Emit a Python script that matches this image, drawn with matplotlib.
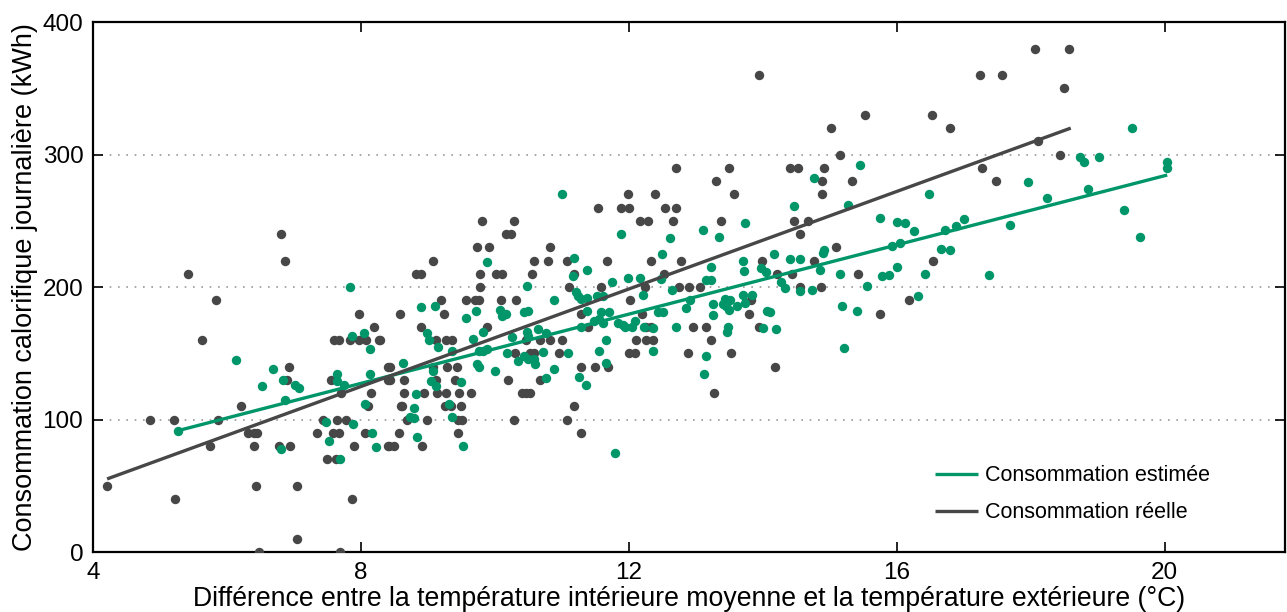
import matplotlib
matplotlib.use("Agg")
import matplotlib.pyplot as plt
import numpy as np

plt.rcParams['font.family'] = ['Liberation Sans', 'DejaVu Sans']

# Real consumption (gray) points: (temperature difference, kWh)
reel_x = [11.99, 12.39, 12.71,
          13.95, 15.53, 15.02, 16.53, 16.80, 15.15, 13.49, 14.41, 14.53, 14.91, 13.30, 14.89, 15.33, 13.57, 14.89,
          18.07, 18.57, 17.24, 17.58, 18.50, 18.11, 18.44, 17.27, 17.49,
          12.70, 12.66, 13.37, 14.46, 14.68, 14.55, 15.10, 12.78, 13.99, 14.76, 16.55, 14.22, 14.44, 15.42,
          12.75, 12.90, 13.06, 14.55, 14.87, 13.82, 13.80, 16.19, 15.75, 12.96, 13.16, 13.95, 13.23, 12.88,
          13.53, 14.19,
          11.54, 11.89, 12.01, 12.54, 9.81, 10.29, 12.16, 12.28, 10.17, 10.24, 9.74, 9.92, 10.82, 9.07, 10.58,
          10.80, 11.07, 11.67, 12.33, 8.82, 8.89, 9.78, 10.02, 10.11, 10.55, 11.18, 12.53, 9.78, 11.10, 11.58,
          12.24, 9.20, 9.57, 9.71, 9.76, 10.09, 10.32, 12.02, 8.59, 9.24, 11.28, 12.19, 8.89, 9.88, 11.39,
          12.25, 12.33, 9.12, 9.27, 9.36, 10.47, 10.68, 10.83, 11.00, 12.11, 12.25, 12.36, 12.01, 12.09, 10.30,
          10.53, 10.58, 10.96, 8.40, 8.44, 9.08, 9.28, 9.43, 11.28, 11.49, 11.69, 8.29,
          10.67, 8.43, 8.65, 9.12, 9.41, 10.20, 8.64, 8.94, 9.14, 9.27, 9.47, 9.65, 10.41, 10.47, 10.52, 8.60,
          8.62, 9.25, 9.34, 9.50, 8.69, 8.99, 9.45, 9.51, 10.29, 11.07, 11.18, 8.57, 9.45, 11.29, 8.42, 8.50,
          8.91,
          6.81, 6.87, 5.42, 5.83, 7.97, 8.20, 5.62, 7.60, 7.68, 7.83, 7.97, 8.08, 8.27, 6.92,
          6.90, 6.21, 7.56, 7.70, 8.15, 8.40, 8.10, 4.85, 5.21, 5.87, 6.31, 6.40, 6.45, 7.44, 7.65, 7.77, 7.35,
          7.58, 7.68, 8.06, 5.74, 6.41, 6.77, 6.94, 7.89, 8.41, 7.50, 7.63, 4.21, 6.43, 7.04, 5.23, 7.87, 7.05,
          6.48, 7.69,
          13.27]
reel_y = [270, 270, 290,
          360, 330, 320, 330, 320, 300, 290, 290, 290, 290, 280, 280, 280, 270, 270,
          380, 380, 360, 360, 350, 310, 300, 290, 280,
          260, 250, 250, 250, 250, 240, 230, 220, 220, 220, 220, 210, 210, 210,
          200, 200, 200, 200, 200, 190, 180, 190, 180, 170, 170, 170, 160, 150,
          150, 140,
          260, 260, 260, 260, 250, 250, 250, 250, 240, 240, 230, 230, 230, 220, 220,
          220, 220, 220, 220, 210, 210, 210, 210, 210, 210, 210, 210, 200, 200, 200,
          200, 190, 190, 190, 190, 190, 190, 190, 180, 180, 180, 180, 170, 170, 170,
          170, 170, 160, 160, 160, 160, 160, 160, 160, 160, 160, 160, 150, 150, 150,
          150, 150, 150, 140, 140, 140, 140, 140, 140, 140, 140, 160,
          130, 130, 130, 130, 130, 130, 120, 120, 120, 120, 120, 120, 120, 120, 120, 110,
          110, 110, 110, 110, 100, 100, 100, 100, 100, 100, 110, 90, 90, 90, 80, 80,
          80,
          240, 220, 210, 190, 180, 170, 160, 160, 160, 160, 160, 160, 160, 140,
          130, 110, 130, 120, 120, 130, 110, 100, 100, 100, 90, 90, 90, 100, 100, 100, 90,
          90, 90, 90, 80, 80, 80, 80, 80, 80, 70, 70, 50, 50, 50, 40, 40, 10,
          0, 0,
          120]

# Estimated consumption (green) points
est_x = [11.00,
         15.46, 14.77, 16.49,
         19.52, 18.74, 18.80, 19.02, 20.04, 20.04, 17.96, 18.85, 18.24,
         17.00, 17.69, 19.39, 19.64, 17.38,
         14.46, 15.28, 13.73, 13.11, 13.35, 15.75, 16.00, 16.12, 16.26, 16.72, 16.89, 12.62, 15.93, 16.05,
         14.92, 14.90, 16.66, 16.79, 14.17, 13.70, 14.41, 14.55, 13.23, 13.72, 13.98, 14.05, 14.85, 16.00,
         15.16, 15.78, 15.89, 16.43, 13.15, 13.23, 14.28, 14.34, 14.56, 14.73, 15.56, 12.65, 12.92, 12.86,
         13.26, 13.43, 13.47, 13.51, 13.41, 13.45, 13.50, 13.62, 13.71, 13.73, 13.84, 13.26, 14.06, 14.11,
         15.19, 15.41, 16.32, 12.70, 13.48, 13.47, 14.01, 14.20, 15.22, 13.16,
         11.88, 9.88, 11.18, 12.49, 11.16, 11.38, 11.75, 11.99, 12.17, 12.48, 10.48, 11.21, 11.24, 11.28,
         11.38, 11.52, 11.61, 12.21, 10.88, 8.89, 9.11, 11.38, 9.57, 9.72, 10.08, 10.11, 10.17, 10.44, 10.50,
         11.58, 11.71, 12.43, 12.51, 9.83, 8.98, 9.02, 9.15, 9.67, 10.26, 10.48, 10.65, 10.50, 10.76, 11.28,
         11.48, 11.56, 11.62, 11.66, 11.84, 11.91, 11.95, 12.05, 12.10, 12.22, 12.36, 12.36, 9.36, 9.77, 9.82,
         9.89, 10.18, 10.35, 10.43, 10.50, 10.59, 10.60, 10.72, 11.09, 11.55, 11.66, 8.63, 9.74, 9.77, 10.00,
         10.88,
         10.76, 11.26, 11.36, 9.04, 9.08, 9.50, 9.12, 8.82, 8.79, 9.31, 9.36, 8.73, 8.79, 8.84, 9.53, 11.79,
         7.84, 8.05, 7.86, 8.14, 6.13, 6.68,
         6.83, 6.53, 7.01, 7.08, 6.87, 7.64, 7.64, 7.75, 8.13, 8.06, 5.27, 7.48, 7.88, 7.53, 8.16, 6.80, 8.23,
         7.69,
         13.13]
est_y = [270,
         292, 282, 270,
         320, 298, 294, 298, 294, 290, 279, 274, 267,
         251, 247, 258, 238, 209,
         261, 262, 248, 243, 238, 252, 249, 248, 242, 243, 246, 237, 231, 233,
         228, 226, 229, 228, 225, 220, 221, 221, 215, 212, 214, 211, 213, 215,
         210, 208, 209, 210, 205, 205, 204, 199, 197, 198, 201, 198, 190, 184,
         187, 191, 189, 190, 187, 186, 183, 186, 194, 188, 194, 179, 182, 181,
         186, 182, 193, 170, 170, 166, 169, 168, 154, 148,
         240, 219, 222, 225, 208, 213, 204, 207, 207, 206, 201, 196, 193, 191,
         192, 193, 193, 194, 190, 185, 186, 182, 177, 182, 183, 178, 180, 181, 182,
         181, 181, 181, 181, 166, 165, 160, 155, 161, 162, 166, 168, 163, 165, 170,
         174, 176, 173, 160, 173, 171, 170, 170, 174, 170, 169, 152, 152, 152, 152,
         153, 150, 144, 148, 146, 146, 142, 151, 150, 152, 143, 143, 142, 140, 137,
         138,
         131, 132, 126, 129, 137, 128, 125, 119, 109, 112, 102, 102, 101, 87, 80, 75,
         200, 165, 163, 153, 145, 138,
         130, 125, 126, 124, 115, 134, 129, 126, 134, 112, 91, 98, 97, 84, 90, 78, 79,
         70,
         134]

# Fitted regression lines: slope, intercept, x range
fit_reel = (18.4, -22.3)
fit_reel_range = [4.21, 18.6]
fit_est = (13.06, 22.8)
fit_est_range = [5.27, 20.04]

grey = '#474747'
green = '#00966a'

fig = plt.figure(figsize=(12.87, 6.12), dpi=100)
ax = fig.add_axes([0.0723, 0.098, 0.9262, 0.866])

ax.scatter(reel_x, reel_y, s=46, color=grey, linewidths=0, zorder=3)
ax.scatter(est_x, est_y, s=46, color=green, linewidths=0, zorder=3)

xr = np.array(fit_reel_range)
xe = np.array(fit_est_range)
ax.plot(xe, fit_est[0] * xe + fit_est[1], color=green, lw=2.4, zorder=4,
        label='Consommation estimée', solid_capstyle='butt')
ax.plot(xr, fit_reel[0] * xr + fit_reel[1], color=grey, lw=2.4, zorder=4,
        label='Consommation réelle', solid_capstyle='butt')

ax.set_xlim(4, 21.8)
ax.set_ylim(0, 400)
ax.set_xticks([4, 8, 12, 16, 20])
ax.set_yticks([0, 100, 200, 300, 400])
ax.tick_params(direction='in', length=7, width=1.2, labelsize=17.5, top=True, right=True, pad=7)
for s in ax.spines.values():
    s.set_linewidth(1.6)
ax.yaxis.grid(True, linestyle=(0, (1, 4)), color='#999999', linewidth=1.2)
ax.set_axisbelow(True)

ax.set_xlabel('Différence entre la température intérieure moyenne et la température extérieure (°C)',
              fontsize=19.2, labelpad=1.5)
ax.set_ylabel('Consommation calorifique journalière (kWh)', fontsize=19.5, labelpad=3)

leg = ax.legend(loc='lower right', bbox_to_anchor=(0.953, 0.018), frameon=False, fontsize=15.5,
                handlelength=2.0, handletextpad=0.33, labelspacing=0.74)

fig.savefig('out.png', dpi=100)
